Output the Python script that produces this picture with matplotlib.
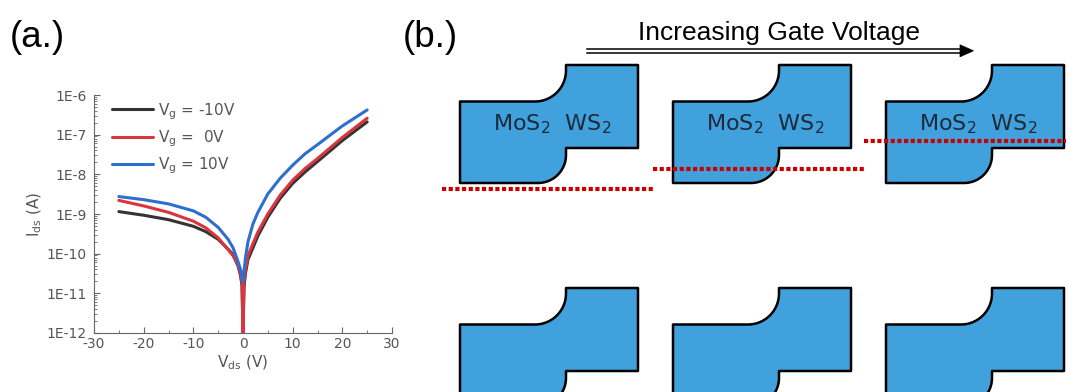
import numpy as np
import matplotlib
matplotlib.use("Agg")
from matplotlib import pyplot as plt
from matplotlib.patches import Polygon

plt.rcParams['mathtext.default'] = 'regular'
plt.rcParams['axes.unicode_minus'] = False

# ---- panel (a) data: I-V curves ----
vds = [-25, -20, -15, -10, -7.5, -5, -3, -2, -1, -0.5, -0.2, 0,
       0.2, 0.5, 1, 2, 3, 5, 7.5, 10, 12.5, 15, 20, 25]
ids_vg_m10 = [1.15e-9, 9.3e-10, 7.2e-10, 4.9e-10, 3.6e-10, 2.3e-10, 1.3e-10, 9.5e-11, 5.0e-11, 2.8e-11, 1.6e-11, 1e-12,
              1.4e-11, 3.2e-11, 7.1e-11, 1.4e-10, 2.8e-10, 8.3e-10, 2.5e-9, 5.9e-9, 1.15e-8, 2.1e-8, 7.1e-8, 2.1e-7]
ids_vg_0 = [2.2e-9, 1.6e-9, 1.1e-9, 6.6e-10, 4.5e-10, 2.5e-10, 1.26e-10, 8.9e-11, 5.0e-11, 3.2e-11, 1.8e-11, 1e-12,
            1.8e-11, 4.0e-11, 8.9e-11, 1.8e-10, 3.5e-10, 1.0e-9, 3.0e-9, 7.1e-9, 1.4e-8, 2.5e-8, 8.5e-8, 2.6e-7]
ids_vg_p10 = [2.75e-9, 2.3e-9, 1.8e-9, 1.2e-9, 8.3e-10, 4.6e-10, 2.3e-10, 1.4e-10, 6.3e-11, 4.0e-11, 2.8e-11, 1.9e-11,
              3.5e-11, 7.9e-11, 2.0e-10, 5.6e-10, 1.1e-9, 3.2e-9, 8.0e-9, 1.7e-8, 3.3e-8, 5.6e-8, 1.66e-7, 4.2e-7]
series_labels = ['V$_g$ = -10V', 'V$_g$ =  0V', 'V$_g$ = 10V']
series_colors = ['#333333', '#d9353e', '#2c6fce']

x_ticks = [-30, -20, -10, 0, 10, 20, 30]
y_ticks = [1e-12, 1e-11, 1e-10, 1e-9, 1e-8, 1e-7, 1e-6]
y_tick_labels = ['1E-12', '1E-11', '1E-10', '1E-9', '1E-8', '1E-7', '1E-6']

# ---- panel (b) text ----
layer_text = 'MoS$_2$  WS$_2$'
arrow_text = 'Increasing Gate Voltage'

W, H = 1066, 392
fig = plt.figure(figsize=(W / 100, H / 100), dpi=100)

# (a) log plot
ax = fig.add_axes([94 / W, (H - 333) / H, 298 / W, 238 / H])
for ys, lab, col in zip([ids_vg_m10, ids_vg_0, ids_vg_p10], series_labels, series_colors):
    ax.plot(vds, ys, color=col, lw=2.2, label=lab, solid_capstyle='round',
            solid_joinstyle='round')
ax.set_yscale('log')
ax.set_xlim(-30, 30)
ax.set_ylim(1e-12, 1e-6)
ax.set_xticks(x_ticks)
ax.set_xticks([-25, -15, -5, 5, 15, 25], minor=True)
ax.set_yticks(y_ticks)
ax.set_yticklabels(y_tick_labels)
for s in ['top', 'right']:
    ax.spines[s].set_visible(False)
for s in ['left', 'bottom']:
    ax.spines[s].set_color('#666666')
ax.tick_params(which='major', direction='in', length=4, color='#666666', labelcolor='#555555', labelsize=10)
ax.tick_params(which='minor', direction='in', length=2, color='#666666')
ax.tick_params(axis='y', pad=5)
ax.tick_params(axis='x', pad=3)
ax.set_xlabel('V$_{ds}$ (V)', color='#555555', fontsize=11, labelpad=2)
ax.set_ylabel('I$_{ds}$ (A)', color='#555555', fontsize=11, labelpad=2)
leg = ax.legend(loc='upper left', frameon=False, fontsize=11, handlelength=2.7,
                handletextpad=0.3, labelspacing=0.45, borderaxespad=0.3,
                bbox_to_anchor=(0.025, 1.02))
for t in leg.get_texts():
    t.set_color('#555555')

# (b) schematic, drawn in pixel coordinates
ov = fig.add_axes([0, 0, 1, 1])
ov.set_xlim(0, W)
ov.set_ylim(H, 0)
ov.axis('off')


def device_outline(left, top):
    th1 = np.linspace(np.pi / 2, 0, 24)
    th2 = np.linspace(0, np.pi / 2, 24)
    pts = [(left, top + 36.5), (left + 75, top + 36.5)]
    pts += [(left + 75 + 31 * np.cos(t), top + 5.5 + 31 * np.sin(t)) for t in th1]
    pts += [(left + 106, top), (left + 178, top), (left + 178, top + 83),
            (left + 106, top + 83)]
    pts += [(left + 78 + 28 * np.cos(t), top + 90 + 28 * np.sin(t)) for t in th2]
    pts += [(left, top + 118)]
    return pts


for left in [460, 673, 886]:
    for top, labelled in [(65, True), (288, False)]:
        ov.add_patch(Polygon(device_outline(left, top), closed=True, facecolor='#41a1dd',
                             edgecolor='black', lw=1.8, joinstyle='round'))
        if labelled:
            ov.text(left + 92, top + 65, layer_text, ha='center', va='baseline',
                    fontsize=16, color='#1c2a3a')

# dotted red lines
for x0, x1, y in [(442, 653, 189.3), (653, 866, 169), (864, 1070, 141)]:
    ov.plot([x0, x1], [y, y], color='#c80000', lw=3, linestyle=(0, (1, 0.6)),
            dash_capstyle='butt', clip_on=False)

# double arrow
ov.plot([587, 962], [49, 49], color='black', lw=1.1)
ov.plot([587, 962], [52.5, 52.5], color='black', lw=1.1)
ov.add_patch(Polygon([(960, 44.8), (973.5, 50.8), (960, 56.8)], closed=True,
                     facecolor='black', edgecolor='black', lw=0.5))
ov.text(779, 39.5, arrow_text, ha='center', va='baseline', fontsize=19,
        family='Liberation Sans', color='black')

ov.text(10, 46.5, '(a.)', ha='left', va='baseline', fontsize=26.5, family='Liberation Sans')
ov.text(403, 46.5, '(b.)', ha='left', va='baseline', fontsize=26.5, family='Liberation Sans')

fig.savefig('out.png', dpi=100)
